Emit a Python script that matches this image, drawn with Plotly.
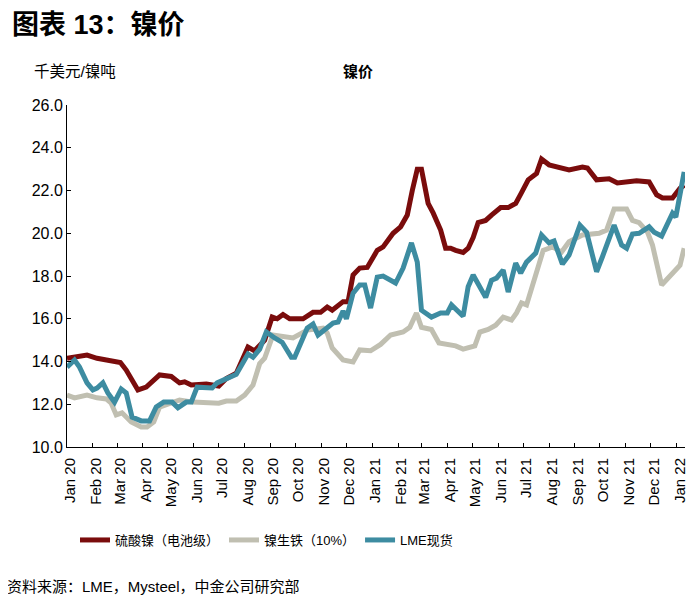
import plotly.graph_objects as go

# 硫酸镍（电池级）
ns_dates = ["2020-01-01", "2020-01-12", "2020-01-25", "2020-02-06", "2020-02-24", "2020-03-05",
            "2020-03-12", "2020-03-26", "2020-04-05", "2020-04-21", "2020-05-05", "2020-05-15",
            "2020-05-21", "2020-05-29", "2020-06-16", "2020-07-01", "2020-07-10", "2020-07-22",
            "2020-08-05", "2020-08-13", "2020-08-25", "2020-09-03", "2020-09-09", "2020-09-16",
            "2020-09-24", "2020-10-10", "2020-10-22", "2020-10-31", "2020-11-08", "2020-11-14",
            "2020-11-27", "2020-12-03", "2020-12-09", "2020-12-17", "2020-12-26", "2021-01-07",
            "2021-01-14", "2021-01-26", "2021-02-04", "2021-02-12", "2021-02-18", "2021-02-24",
            "2021-03-01", "2021-03-09", "2021-03-15", "2021-03-24", "2021-03-30", "2021-04-05",
            "2021-04-11", "2021-04-20", "2021-04-26", "2021-05-02", "2021-05-08", "2021-05-17",
            "2021-05-24", "2021-06-04", "2021-06-13", "2021-06-22", "2021-06-29", "2021-07-07",
            "2021-07-17", "2021-07-23", "2021-08-01", "2021-08-25", "2021-09-10", "2021-09-16",
            "2021-09-27", "2021-10-12", "2021-10-22", "2021-11-14", "2021-11-29", "2021-12-08",
            "2021-12-15", "2021-12-27", "2022-01-05", "2022-01-10"]
ns_vals = [14.15, 14.2, 14.3, 14.15, 14.0, 13.95,
           13.6, 12.67, 12.8, 13.37, 13.3, 13.0,
           13.05, 12.9, 12.95, 12.85, 13.2, 13.45,
           14.68, 14.5, 15.0, 16.08, 16.0, 16.2,
           16.0, 16.0, 16.3, 16.3, 16.55, 16.4,
           16.8, 16.8, 18.05, 18.37, 18.4, 19.2,
           19.36, 20.0, 20.3, 20.85, 22.0, 23.0,
           23.0, 21.4, 20.95, 20.15, 19.3, 19.3,
           19.2, 19.1, 19.3, 19.8, 20.5, 20.6,
           20.85, 21.2, 21.2, 21.4, 21.9, 22.5,
           22.8, 23.47, 23.2, 22.96, 23.1, 23.05,
           22.5, 22.55, 22.35, 22.45, 22.4, 21.8,
           21.65, 21.65, 22.1, 22.25]

# 镍生铁（10%）
npi_dates = ["2020-01-01", "2020-01-10", "2020-01-25", "2020-02-06", "2020-02-17", "2020-02-23",
             "2020-02-29", "2020-03-07", "2020-03-18", "2020-03-30", "2020-04-06", "2020-04-14",
             "2020-04-21", "2020-05-02", "2020-05-15", "2020-05-31", "2020-06-28", "2020-07-01",
             "2020-07-10", "2020-07-22", "2020-08-01", "2020-08-11", "2020-08-19", "2020-08-25",
             "2020-09-04", "2020-09-15", "2020-09-28", "2020-10-15", "2020-11-03", "2020-11-08",
             "2020-11-14", "2020-11-27", "2020-12-09", "2020-12-17", "2020-12-30", "2021-01-11",
             "2021-01-23", "2021-02-07", "2021-02-15", "2021-02-23", "2021-03-01", "2021-03-13",
             "2021-03-22", "2021-04-11", "2021-04-20", "2021-05-04", "2021-05-10", "2021-05-20",
             "2021-05-29", "2021-06-07", "2021-06-17", "2021-06-23", "2021-06-29", "2021-07-05",
             "2021-07-16", "2021-07-25", "2021-08-05", "2021-08-16", "2021-08-25", "2021-09-10",
             "2021-09-30", "2021-10-09", "2021-10-18", "2021-11-02", "2021-11-09", "2021-11-17",
             "2021-11-27", "2021-12-03", "2021-12-14", "2021-12-23", "2022-01-05", "2022-01-10"]
npi_vals = [12.43, 12.3, 12.43, 12.3, 12.25, 12.05,
            11.5, 11.6, 11.17, 10.94, 10.94, 11.17,
            11.87, 12.05, 12.2, 12.1, 12.1, 12.05,
            12.15, 12.15, 12.43, 12.9, 13.9, 14.16,
            15.24, 15.2, 15.1, 15.47, 15.56, 15.33,
            14.63, 14.07, 13.98, 14.54, 14.5, 14.8,
            15.24, 15.38, 15.6, 16.27, 15.6, 15.5,
            14.87, 14.73, 14.58, 14.73, 15.38, 15.5,
            15.7, 16.08, 15.94, 16.27, 16.74, 16.65,
            18.14, 19.2, 19.36, 19.12, 19.6, 19.92,
            20.0, 20.15, 21.13, 21.13, 20.6, 20.5,
            20.05, 19.45, 17.58, 17.95, 18.5, 19.3]

# LME现货
lme_dates = ["2020-01-01", "2020-01-10", "2020-01-16", "2020-01-25", "2020-02-01", "2020-02-06",
             "2020-02-13", "2020-02-19", "2020-02-27", "2020-03-06", "2020-03-12", "2020-03-19",
             "2020-03-30", "2020-04-09", "2020-04-17", "2020-04-26", "2020-05-06", "2020-05-13",
             "2020-05-23", "2020-05-29", "2020-06-05", "2020-06-16", "2020-06-23", "2020-06-29",
             "2020-07-10", "2020-07-22", "2020-08-05", "2020-08-11", "2020-08-19", "2020-08-27",
             "2020-09-06", "2020-09-15", "2020-09-26", "2020-09-30", "2020-10-15", "2020-10-22",
             "2020-10-28", "2020-11-08", "2020-11-15", "2020-11-21", "2020-11-27", "2020-12-01",
             "2020-12-09", "2020-12-17", "2020-12-23", "2020-12-30", "2021-01-07", "2021-01-14",
             "2021-01-29", "2021-02-07", "2021-02-17", "2021-02-24", "2021-03-01", "2021-03-13",
             "2021-03-24", "2021-04-01", "2021-04-06", "2021-04-20", "2021-04-26", "2021-05-02",
             "2021-05-10", "2021-05-17", "2021-05-24", "2021-05-30", "2021-06-07", "2021-06-13",
             "2021-06-22", "2021-06-28", "2021-07-05", "2021-07-16", "2021-07-23", "2021-08-01",
             "2021-08-07", "2021-08-17", "2021-08-25", "2021-09-07", "2021-09-15", "2021-09-27",
             "2021-10-04", "2021-10-18", "2021-10-27", "2021-11-02", "2021-11-09", "2021-11-17",
             "2021-11-29", "2021-12-05", "2021-12-14", "2021-12-27", "2021-12-31", "2022-01-10"]
lme_vals = [13.74, 14.07, 13.74, 13.0, 12.67, 12.76,
            13.0, 12.53, 12.1, 12.71, 12.53, 11.4,
            11.22, 11.22, 11.87, 12.1, 12.1, 11.83,
            12.1, 12.1, 12.8, 12.8, 12.76, 13.0,
            13.18, 13.4, 14.35, 14.2, 14.58, 15.38,
            15.1, 14.9, 14.2, 14.2, 15.56, 15.75,
            15.24, 15.56, 15.8, 15.85, 16.36, 16.0,
            17.2, 17.58, 17.58, 16.5, 17.95, 18.0,
            17.67, 18.37, 19.55, 18.65, 16.4, 16.08,
            16.27, 16.27, 16.65, 16.12, 17.5, 18.05,
            17.44, 17.0, 17.8, 17.9, 18.28, 17.25,
            18.6, 18.14, 18.65, 19.07, 19.92, 19.55,
            19.64, 18.56, 18.98, 20.38, 20.05, 18.2,
            18.9, 20.38, 19.45, 19.3, 19.96, 20.0,
            20.3, 20.05, 19.87, 20.94, 20.76, 22.87]

y_ticks = [10, 12, 14, 16, 18, 20, 22, 24, 26]

FONT = "Liberation Sans, Arial, Noto Sans CJK SC, sans-serif"

# page is offset by the default 8px body margin; plot area spans page px x 67..685, y 105..447
PLOT_L, PLOT_T, PLOT_W, PLOT_H = 67, 105, 618, 342


def px(x):
    return (x - PLOT_L) / PLOT_W


def py(y):
    return (PLOT_T + PLOT_H - y) / PLOT_H


fig = go.Figure()
fig.add_trace(go.Scatter(x=ns_dates, y=ns_vals, mode="lines", name="硫酸镍（电池级）",
                         line=dict(color="#7a0c0c", width=5)))
fig.add_trace(go.Scatter(x=npi_dates, y=npi_vals, mode="lines", name="镍生铁（10%）",
                         line=dict(color="#c0bfb1", width=5)))
fig.add_trace(go.Scatter(x=lme_dates, y=lme_vals, mode="lines", name="LME现货",
                         line=dict(color="#3d8ca1", width=5)))

fig.update_layout(
    width=692, height=587,
    margin=dict(l=59, r=15, t=97, b=148, autoexpand=False),
    paper_bgcolor="white", plot_bgcolor="white",
    font=dict(family=FONT, color="#000000", size=15),
    showlegend=True,
    legend=dict(orientation="h", x=px(75), xanchor="left", y=py(540), yanchor="middle",
                font=dict(size=13, family=FONT), bgcolor="rgba(0,0,0,0)"),
    xaxis=dict(type="date", range=["2020-01-01", "2022-01-11"],
               tick0="2020-01-01", dtick="M1", tickformat="%b %y", tickangle=-90,
               ticks="inside", ticklen=4, tickcolor="black", showline=True, linecolor="black",
               linewidth=1, showgrid=False, zeroline=False, tickfont=dict(size=15),
               ticklabelshift=3, ticklabelstandoff=4, automargin=False),
    yaxis=dict(range=[10, 26], tickvals=y_ticks, tickformat=".1f",
               ticks="inside", ticklen=4, tickcolor="black", showline=True, linecolor="black",
               linewidth=1, showgrid=False, zeroline=False, tickfont=dict(size=16),
               automargin=False),
    annotations=[
        dict(text="<b>图表 13：镍价</b>", xref="paper", yref="paper", x=px(10), y=py(8.5),
             xanchor="left", yanchor="top", showarrow=False, font=dict(size=27)),
        dict(text="千美元/镍吨", xref="paper", yref="paper", x=px(32), y=py(72),
             xanchor="left", yanchor="middle", showarrow=False, font=dict(size=15.5)),
        dict(text="<b>镍价</b>", xref="paper", yref="paper", x=px(358), y=py(72),
             xanchor="center", yanchor="middle", showarrow=False, font=dict(size=15)),
        dict(text="资料来源：LME，Mysteel，中金公司研究部", xref="paper", yref="paper",
             x=px(5), y=py(586), xanchor="left", yanchor="middle", showarrow=False,
             font=dict(size=15)),
    ],
)

fig.write_html("out.html")
